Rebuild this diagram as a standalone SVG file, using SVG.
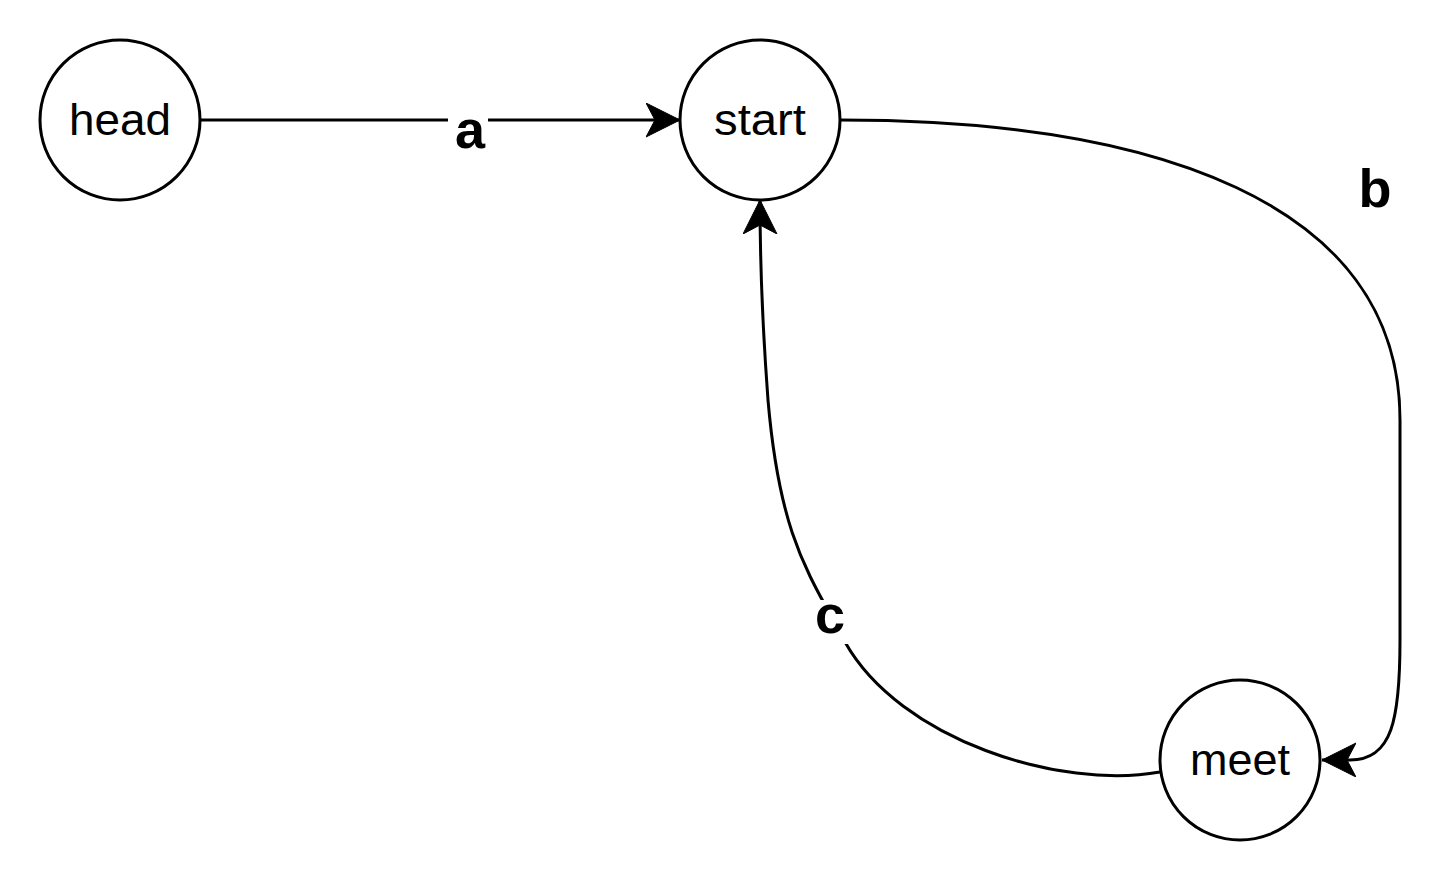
<svg xmlns="http://www.w3.org/2000/svg" width="1444" height="884" viewBox="0 0 1444 884">
<style>
.node{fill:#fff;stroke:#000;stroke-width:3}
.ntext{font-family:"Liberation Sans",Arial,sans-serif;font-size:44px;fill:#000;text-anchor:middle}
.edge{fill:none;stroke:#000;stroke-width:3}
.lbl{font-family:"Liberation Sans",Arial,sans-serif;font-size:54px;font-weight:bold;fill:#000;text-anchor:middle}
.lblbg{fill:#fff;stroke:none}
</style>
<defs>
<marker id="arr" markerUnits="userSpaceOnUse" markerWidth="40" markerHeight="40" refX="34" refY="17" orient="auto" viewBox="0 0 40 40">
<path d="M0,0 L34,17 L0,34 L9,17 Z" fill="#000" stroke="#000" stroke-width="1"/>
</marker>
</defs>
<rect width="1444" height="884" fill="#fff"/>
<g id="connectors">
<path class="edge" d="M200,120 L680,120" marker-end="url(#arr)"/>
<path class="edge" d="M840,120 C1150,120 1400,200 1400,420 L1400,640 C1400,720 1392,760 1350,760 L1322,760" marker-end="url(#arr)"/>
<path class="edge" d="M1160,772 C1060,790 900,740 845,642 C810,575 780,540 768,400 C762,320 760,260 760,200" marker-end="url(#arr)"/>
<rect class="lblbg" x="448" y="105" width="40" height="50"/>
<text class="lbl" x="470" y="148">a</text>
<rect class="lblbg" x="1355" y="160" width="40" height="55"/>
<text class="lbl" x="1375" y="207">b</text>
<rect class="lblbg" x="810" y="600" width="40" height="44"/>
<text class="lbl" x="830" y="633">c</text>
</g>
<g id="node-head">
<circle class="node" cx="120" cy="120" r="80"/>
<text class="ntext" x="120" y="135" textLength="102" lengthAdjust="spacingAndGlyphs">head</text>
</g>
<g id="node-start">
<circle class="node" cx="760" cy="120" r="80"/>
<text class="ntext" x="760" y="135" textLength="92" lengthAdjust="spacingAndGlyphs">start</text>
</g>
<g id="node-meet">
<circle class="node" cx="1240" cy="760" r="80"/>
<text class="ntext" x="1240" y="775" textLength="100" lengthAdjust="spacingAndGlyphs">meet</text>
</g>
</svg>
